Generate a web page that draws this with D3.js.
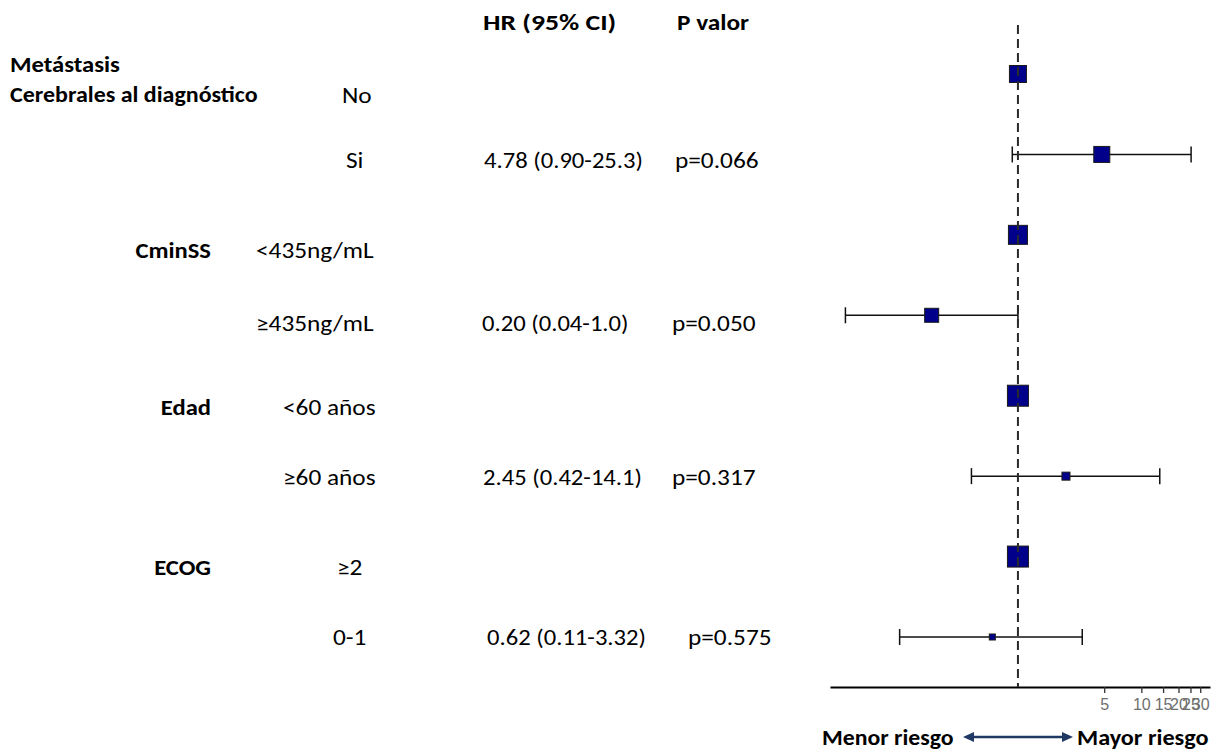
<!DOCTYPE html>
<html>
<head>
<meta charset="utf-8">
<script src="https://cdn.jsdelivr.net/npm/d3@7"></script>
<style>
  html, body { margin: 0; padding: 0; background: #fff; }
  svg text.lbl { font-family: Carlito, Calibri, Lato, "Open Sans", sans-serif; fill: #000; }
</style>
</head>
<body>
<svg id="chart" width="1223" height="753"></svg>
<script>
// ---------- data ----------
const groups = ["Metástasis", "CminSS", "Edad", "ECOG"];
const groupSubtitle = "Cerebrales al diagnóstico";
const subgroups = ["No", "Si", "<435ng/mL", "≥435ng/mL", "<60 años", "≥60 años", "≥2", "0-1"];
const hr      = [1, 4.78, 1, 0.20, 1, 2.45, 1, 0.62];
const ciLow   = [null, 0.90, null, 0.04, null, 0.42, null, 0.11];
const ciHigh  = [null, 25.3, null, 1.0, null, 14.1, null, 3.32];
const weights = [17, 16, 19, 14, 21, 8, 21, 6];   // box size (study weight)
const hrText  = ["", "4.78 (0.90-25.3)", "", "0.20 (0.04-1.0)", "", "2.45 (0.42-14.1)", "", "0.62 (0.11-3.32)"];
const pText   = ["", "p=0.066", "", "p=0.050", "", "p=0.317", "", "p=0.575"];
const tickValues = [5, 10, 15, 20, 25, 30];
const headers = ["HR (95% CI)", "P valor"];
const legendLabels = ["Menor riesgo", "Mayor riesgo"];

// ---------- layout ----------
const svg = d3.select("#chart");
const x = d3.scaleLog().domain([0.03, 36]).range([830, 1210]);
const y = d3.scaleLinear().domain([0, subgroups.length - 1]).range([74, 637]);
const axisY = 687;
const fs = 22;
const textDy = [21, 6, 15, 8, 11, 1, 10, 0];
const subX = [342, 346, 256, 256, 283, 283, 337, 333];
const hrX = [0, 484, 0, 482, 0, 483, 0, 487];
const pX = [0, 675, 0, 672, 0, 672, 0, 688];
const groupRow = [0, 2, 4, 6];

function label(tx, ty, str, opts = {}) {
  const sx = opts.sx || (opts.bold ? 1.12 : 1.17);
  return svg.append("text").attr("class", "lbl")
    .attr("transform", `translate(${tx},${ty}) scale(${sx},1)`)
    .attr("font-size", opts.size || fs)
    .attr("font-weight", opts.bold ? "bold" : "normal")
    .attr("text-anchor", opts.anchor || "start")
    .text(str);
}

// headers
label(483, 30, headers[0], { bold: true, sx: 1.26 });
label(677, 30, headers[1], { bold: true, sx: 1.15 });

// group labels
label(10, 72, groups[0], { bold: true });
label(10, 102, groupSubtitle, { bold: true, sx: 1.09 });
groups.slice(1).forEach((g, i) => {
  const r = groupRow[i + 1];
  label(211, y(r) + textDy[r] + 8, g, { bold: true, anchor: "end" });
});

// subgroup, HR, p texts
subgroups.forEach((s, i) => {
  const ty = y(i) + textDy[i] + 8;
  label(subX[i], ty, s, { sx: 1.15 });
  if (hrText[i]) label(hrX[i], ty, hrText[i], { sx: 1.12 });
  if (pText[i]) label(pX[i], ty, pText[i], { sx: 1.15 });
});

// axis
const axis = d3.axisBottom(x).tickValues(tickValues).tickFormat(d3.format("d")).tickSize(6).tickSizeOuter(0);
const ag = svg.append("g").attr("transform", `translate(0,${axisY})`).call(axis);
ag.select(".domain").attr("stroke", "#000").attr("stroke-width", 1.8);
ag.selectAll(".tick line").attr("stroke", "#333").attr("stroke-width", 1.3);
ag.selectAll(".tick text").attr("font-family", "Liberation Sans, Arial, sans-serif").attr("font-size", 16)
  .attr("fill", "#6e6e6e").attr("dy", "0.9em");

// CI lines
const ci = svg.append("g");
subgroups.forEach((s, i) => {
  if (ciLow[i] == null) return;
  const yy = y(i);
  ci.append("line").attr("x1", x(ciLow[i])).attr("x2", x(ciHigh[i])).attr("y1", yy).attr("y2", yy)
    .attr("stroke", "#111").attr("stroke-width", 1.5);
  [ciLow[i], ciHigh[i]].forEach(v => {
    ci.append("line").attr("x1", x(v)).attr("x2", x(v)).attr("y1", yy - 8).attr("y2", yy + 8)
      .attr("stroke", "#111").attr("stroke-width", 1.5);
  });
});

// boxes
svg.append("g").selectAll("rect").data(hr).join("rect")
  .attr("x", (d, i) => x(d) - weights[i] / 2)
  .attr("y", (d, i) => y(i) - weights[i] / 2)
  .attr("width", (d, i) => weights[i])
  .attr("height", (d, i) => weights[i])
  .attr("fill", "#00008b").attr("stroke", "#1a1a1a").attr("stroke-width", 1);

// reference line (HR = 1)
svg.append("line").attr("x1", x(1)).attr("x2", x(1)).attr("y1", 25).attr("y2", axisY)
  .attr("stroke", "#2a2a2a").attr("stroke-width", 2).attr("stroke-dasharray", "9,5");

// legend
const legY = 737;
label(822, legY + 8, legendLabels[0], { bold: true, sx: 1.08 });
label(1077, legY + 8, legendLabels[1], { bold: true, sx: 1.1 });
const arrowColor = "#1f3864";
svg.append("line").attr("x1", 970).attr("x2", 1066).attr("y1", legY).attr("y2", legY)
  .attr("stroke", arrowColor).attr("stroke-width", 2.5);
svg.append("path").attr("d", `M963,${legY} L974,${legY - 5} L974,${legY + 5} Z`).attr("fill", arrowColor);
svg.append("path").attr("d", `M1073,${legY} L1062,${legY - 5} L1062,${legY + 5} Z`).attr("fill", arrowColor);
</script>
</body>
</html>
